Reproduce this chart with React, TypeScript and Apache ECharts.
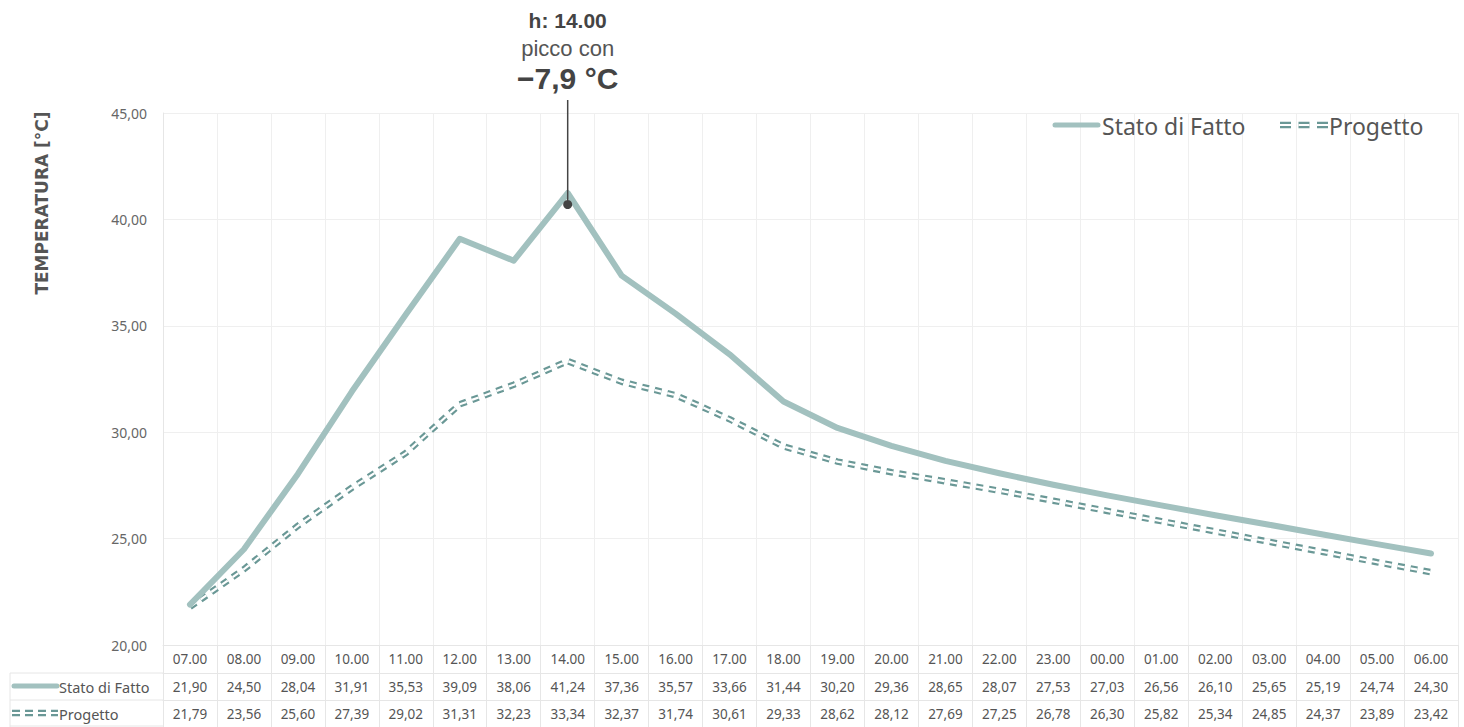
import React, { useEffect, useRef } from "react";
import * as echarts from "echarts";

const hours = ["07.00","08.00","09.00","10.00","11.00","12.00","13.00","14.00","15.00","16.00","17.00","18.00","19.00","20.00","21.00","22.00","23.00","00.00","01.00","02.00","03.00","04.00","05.00","06.00"];
const statoDiFatto = [21.90,24.50,28.04,31.91,35.53,39.09,38.06,41.24,37.36,35.57,33.66,31.44,30.20,29.36,28.65,28.07,27.53,27.03,26.56,26.10,25.65,25.19,24.74,24.30];
const progetto = [21.79,23.56,25.60,27.39,29.02,31.31,32.23,33.34,32.37,31.74,30.61,29.33,28.62,28.12,27.69,27.25,26.78,26.30,25.82,25.34,24.85,24.37,23.89,23.42];
const yTicks = { min: 20, max: 45, interval: 5 };
const peakHour = "14.00";
const peakMarkValue = 40.7;
const annotationLines = ["h: 14.00", "picco con", "−7,9 °C"];

const STATO_COLOR = "#a2c1bf";
const PROG_COLOR = "#6a9896";
const GRID_COLOR = "#e6e6e6";
const TEXT = "#555";
const FONT = "'Noto Sans', sans-serif";
const ARIAL = "'Liberation Sans', Arial, sans-serif";
const DASH = [7, 6];

const fmt = (v: number) => v.toFixed(2).replace(".", ",");

export default function App() {
  const ref = useRef<HTMLDivElement>(null);
  useEffect(() => {
    if (!ref.current) return;
    const chart = echarts.init(ref.current, undefined, { renderer: "svg" });
    const tableAxis = (data: string[], offset: number, tick: number, margin: number) => ({
      type: "category",
      data,
      position: "bottom",
      offset,
      boundaryGap: true,
      axisLine: { show: true, lineStyle: { color: GRID_COLOR, width: 1 } },
      axisTick: { show: true, length: tick, interval: 0, lineStyle: { color: GRID_COLOR, width: 1 } },
      axisLabel: { show: true, interval: 0, color: TEXT, fontSize: 13.5, fontFamily: FONT, margin },
      splitLine: { show: false },
    });
    const x0: any = tableAxis(hours, 0, 28, 7);
    x0.splitLine = { show: true, interval: 0, lineStyle: { color: "#efefef", width: 1 } };
    const dashLine = (x1: number, y: number, x2: number, dash: number[]) => [
      { type: "line", shape: { x1, y1: y, x2, y2: y }, style: { stroke: PROG_COLOR, lineWidth: 6.5, lineDash: dash } },
      { type: "line", shape: { x1, y1: y, x2, y2: y }, style: { stroke: "#fff", lineWidth: 2.2, lineDash: dash } },
    ];
    const solidLine = (x1: number, y: number, x2: number, w: number) => ({
      type: "line", shape: { x1, y1: y, x2, y2: y }, style: { stroke: STATO_COLOR, lineWidth: w, lineCap: "round" },
    });
    const gl = (x1: number, y1: number, x2: number, y2: number) => ({
      type: "line", shape: { x1, y1, x2, y2 }, style: { stroke: GRID_COLOR, lineWidth: 1 },
    });
    const option: any = {
      animation: false,
      backgroundColor: "#fff",
      grid: { left: 163, right: 6, top: 113, bottom: 82, containLabel: false, show: false },
      xAxis: [
        x0,
        tableAxis(statoDiFatto.map(fmt), 28, 27, 7),
        tableAxis(progetto.map(fmt), 55, 27, 7),
      ],
      yAxis: {
        type: "value",
        min: yTicks.min,
        max: yTicks.max,
        interval: yTicks.interval,
        axisLine: { show: true, lineStyle: { color: GRID_COLOR } },
        axisTick: { show: false },
        axisLabel: { color: "#666", fontSize: 14, fontFamily: FONT, margin: 16, formatter: (v: number) => fmt(v), verticalAlign: "middle" },
        splitLine: { show: true, lineStyle: { color: "#efefef", width: 1 } },
      },
      series: [
        {
          name: "Stato di Fatto", type: "line", data: statoDiFatto, symbol: "none", z: 3,
          lineStyle: { color: STATO_COLOR, width: 6, cap: "round", join: "round" },
        },
        {
          name: "Progetto", type: "line", data: progetto, symbol: "none", z: 2,
          lineStyle: { color: PROG_COLOR, width: 6.5, type: DASH },
        },
        {
          name: "ProgettoInner", type: "line", data: progetto, symbol: "none", z: 2.5,
          lineStyle: { color: "#fff", width: 2.2, type: DASH },
        },
      ],
    };
    chart.setOption(option);
    const p = chart.convertToPixel({ xAxisIndex: 0, yAxisIndex: 0 }, [peakHour, peakMarkValue]) as number[];
    const ax = p[0];
    chart.setOption({
      graphic: [
        {
          type: "text", x: 42, y: 203, rotation: Math.PI / 2,
          style: { text: "TEMPERATURA [°C]", fill: TEXT, font: `bold 17px 'DejaVu Sans', sans-serif`, align: "center", verticalAlign: "middle" },
        },
        // legend
        solidLine(1055, 125, 1098, 5),
        { type: "text", x: 1102, y: 126, style: { text: "Stato di Fatto", fill: TEXT, font: `23px ${FONT}`, verticalAlign: "middle" } },
        ...dashLine(1280, 125, 1328, [11, 7.5]),
        { type: "text", x: 1329, y: 126, style: { text: "Progetto", fill: TEXT, font: `23px ${FONT}`, verticalAlign: "middle" } },
        // table left column
        gl(10, 673, 163, 673),
        gl(10, 700, 163, 700),
        gl(10, 673, 10, 727),
        gl(10, 726, 163, 726),
        solidLine(14, 686, 57, 5),
        { type: "text", x: 59, y: 687, style: { text: "Stato di Fatto", fill: TEXT, font: `14.5px ${FONT}`, verticalAlign: "middle" } },
        ...dashLine(12, 713, 58, [8, 5]),
        { type: "text", x: 59, y: 714, style: { text: "Progetto", fill: TEXT, font: `14.5px ${FONT}`, verticalAlign: "middle" } },
        // annotation
        { type: "text", x: ax, y: 20, style: { text: annotationLines[0], fill: "#444", font: `bold 21px ${ARIAL}`, align: "center", verticalAlign: "middle" } },
        { type: "text", x: ax, y: 48, style: { text: annotationLines[1], fill: "#555", font: `22px ${ARIAL}`, align: "center", verticalAlign: "middle" } },
        { type: "text", x: ax, y: 78, style: { text: annotationLines[2], fill: "#444", font: `bold 30px ${ARIAL}`, align: "center", verticalAlign: "middle" } },
        { type: "line", shape: { x1: ax, y1: 100, x2: ax, y2: p[1] }, style: { stroke: "#444", lineWidth: 1.5 }, z: 10 },
        { type: "circle", shape: { cx: ax, cy: p[1], r: 4.5 }, style: { fill: "#444" }, z: 10 },
      ],
    });
    return () => chart.dispose();
  }, []);
  return <div ref={ref} style={{ position: "absolute", left: 0, top: 0, width: 1464, height: 727 }} />;
}
